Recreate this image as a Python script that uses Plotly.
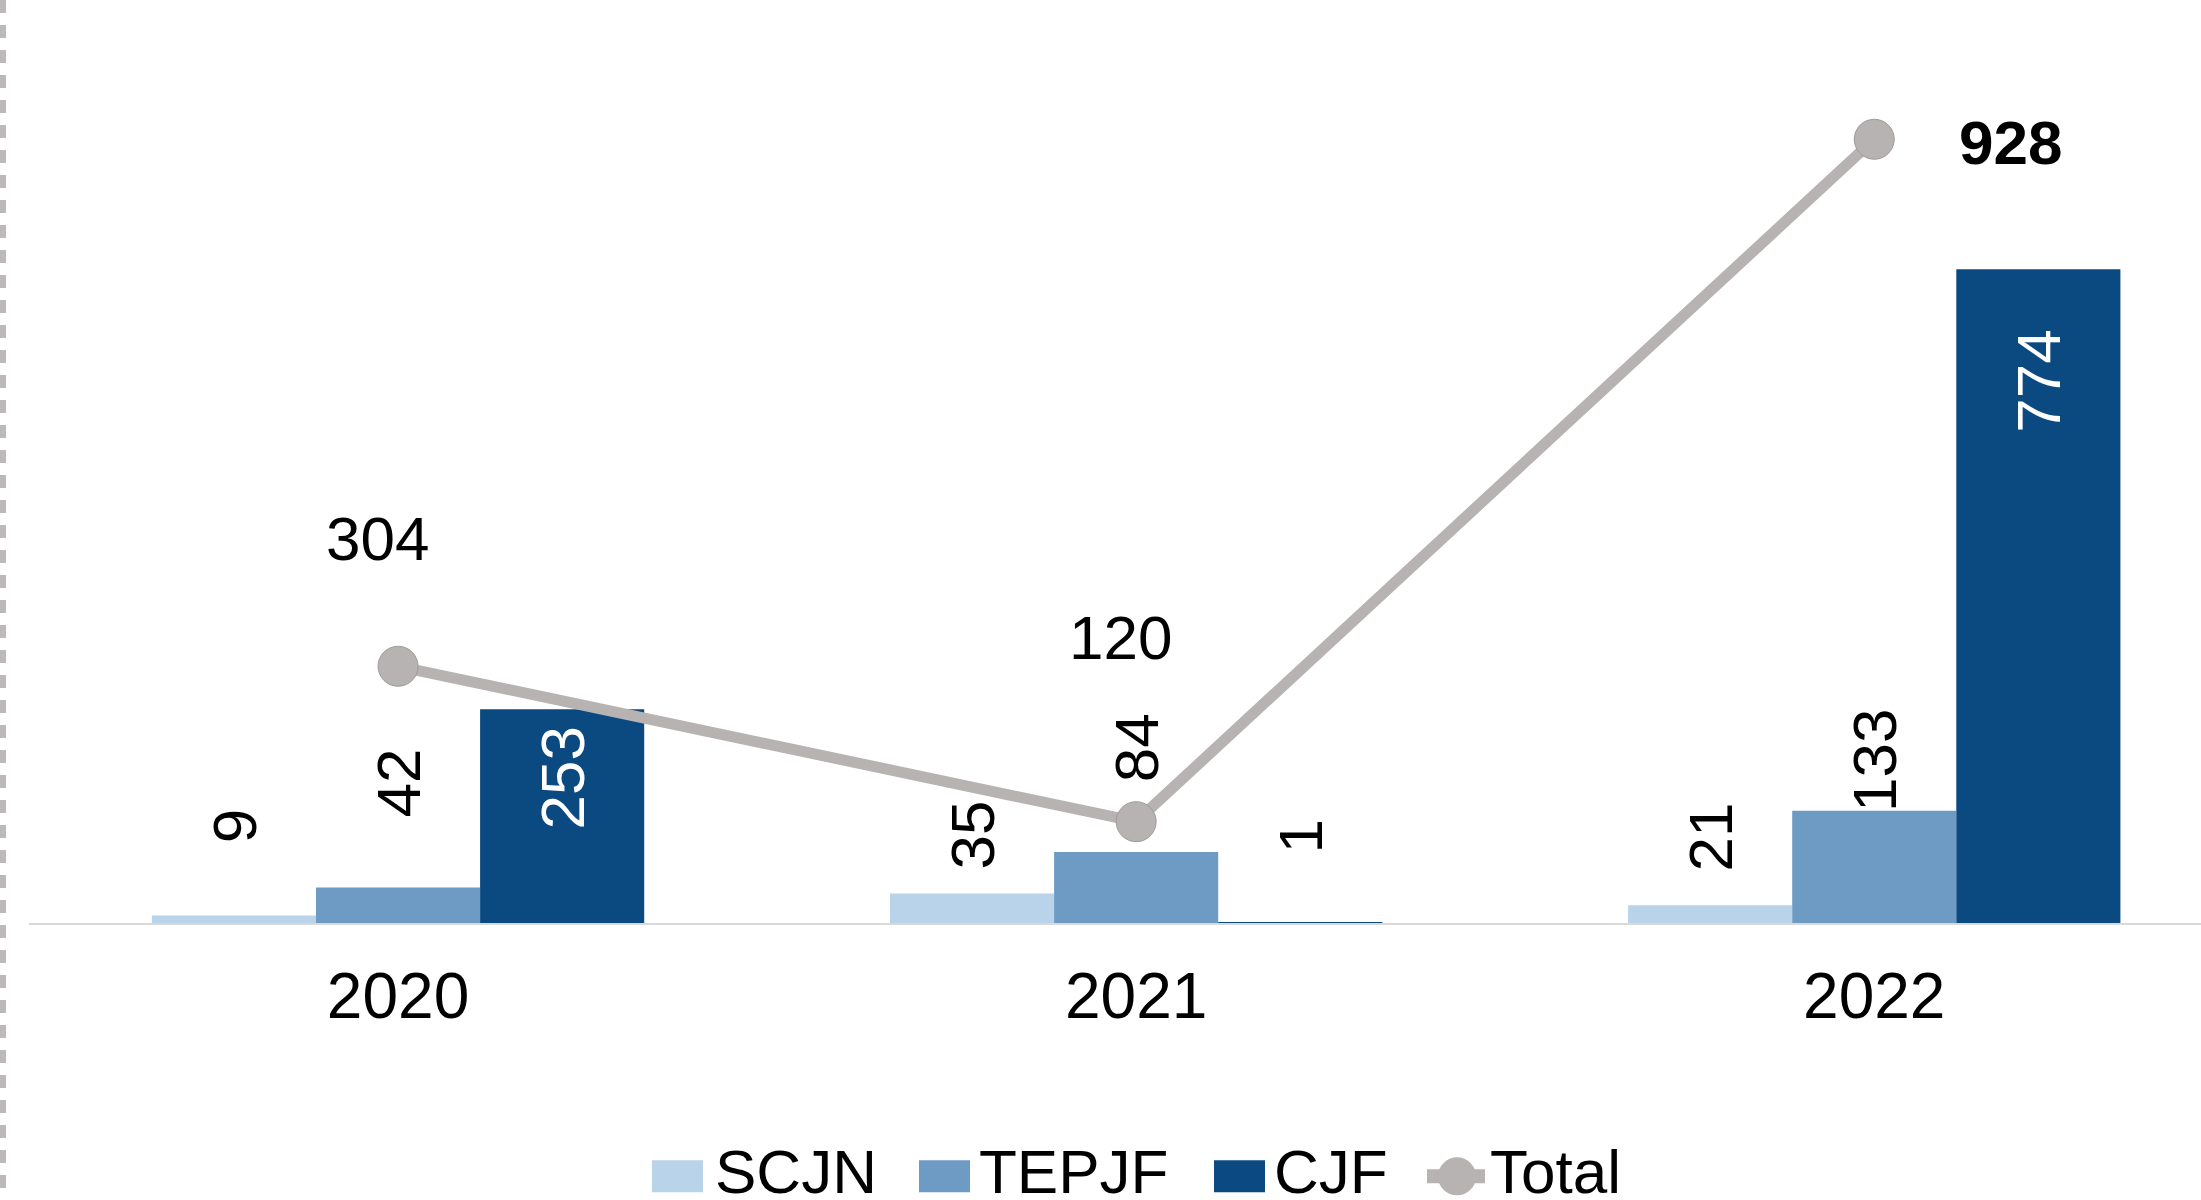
import plotly.graph_objects as go

# ---- data ----
years = ["2020", "2021", "2022"]
scjn = [9, 35, 21]
tepjf = [42, 84, 133]
cjf = [253, 1, 774]
total = [304, 120, 928]

# ---- geometry / style ----
W, H = 2201, 1200
ML, MT = 29, 0
PLOT_W = W - ML
BASE_PX = 923.5
MB = H - BASE_PX
PX_PER_UNIT = 0.845
YMAX = BASE_PX / PX_PER_UNIT
BARGAP = 0.333
XR = [-0.5, -0.5 + PLOT_W / 738.1]

C_SCJN = "#B9D3EA"
C_TEPJF = "#6E9BC3"
C_CJF = "#0B4A80"
C_TOT = "#B8B3B3"
FONT = "Liberation Sans, Arial, sans-serif"
FS = 62

xs = list(range(len(years)))

fig = go.Figure()
series = [("SCJN", scjn, C_SCJN), ("TEPJF", tepjf, C_TEPJF), ("CJF", cjf, C_CJF)]
for name, vals, col in series:
    fig.add_trace(go.Bar(x=xs, y=vals, name=name, marker=dict(color=col, line=dict(width=0)),
                         showlegend=False, hoverinfo="skip"))

fig.add_trace(go.Scatter(x=xs, y=total, name="Total", mode="lines+markers",
                         line=dict(color=C_TOT, width=11),
                         marker=dict(size=40, color=C_TOT, line=dict(color="#A09B9B", width=1)),
                         showlegend=False, hoverinfo="skip"))

# ---- bar labels (rotated) ----
bw = (1 - BARGAP) / 3
label_shift = [[89, 58, 68], [104, 104, 50], [-69, 86, -112]]
label_color = [["black"] * 3, ["black"] * 3, ["white", "black", "white"]]
ann = []
for k, (name, vals, col) in enumerate(series):
    for i, v in enumerate(vals):
        ann.append(dict(x=i + (k - 1) * bw, y=v, xref="x", yref="y", text=str(v),
                        showarrow=False, textangle=-90, xanchor="center", yanchor="middle",
                        yshift=label_shift[k][i],
                        font=dict(family=FONT, size=FS, color=label_color[k][i])))

# ---- total labels ----
tot_dx = [-21, -16, 136]
tot_dy = [128, 184, -3]
for i, v in enumerate(total):
    txt = f"<b>{v}</b>" if i == 2 else str(v)
    ann.append(dict(x=i, y=v, xref="x", yref="y", text=txt, showarrow=False,
                    xanchor="center", yanchor="middle", xshift=tot_dx[i], yshift=tot_dy[i],
                    font=dict(family=FONT, size=FS, color="black")))


def px(x):
    return (x - ML) / PLOT_W


def py(y):
    return (BASE_PX - y) / BASE_PX


shapes = []
# left dashed border
shapes.append(dict(type="line", xref="paper", yref="paper", x0=px(3), x1=px(3), y0=py(0), y1=py(H),
                   line=dict(color="#BDB8B9", width=6, dash="13px,12px")))

# ---- custom legend ----
LEG_Y = 1177
TXT_Y = 1172
leg_items = [("SCJN", C_SCJN, 652, 713), ("TEPJF", C_TEPJF, 919, 977), ("CJF", C_CJF, 1214, 1272)]
for name, col, sx, tx in leg_items:
    shapes.append(dict(type="rect", xref="paper", yref="paper", x0=px(sx), x1=px(sx + 51),
                       y0=py(LEG_Y - 16), y1=py(LEG_Y + 16), fillcolor=col, line=dict(width=0)))
    ann.append(dict(x=px(tx), y=py(TXT_Y), xref="paper", yref="paper", text=name, showarrow=False,
                    xanchor="left", yanchor="middle", font=dict(family=FONT, size=FS, color="black")))
shapes.append(dict(type="line", xref="paper", yref="paper", x0=px(1427), x1=px(1485), y0=py(LEG_Y),
                   y1=py(LEG_Y), line=dict(color=C_TOT, width=14)))
shapes.append(dict(type="circle", xref="paper", yref="paper", x0=px(1457 - 19), x1=px(1457 + 19),
                   y0=py(LEG_Y - 19), y1=py(LEG_Y + 19), fillcolor=C_TOT, line=dict(width=0)))
ann.append(dict(x=px(1488), y=py(TXT_Y), xref="paper", yref="paper", text="Total", showarrow=False,
                xanchor="left", yanchor="middle", font=dict(family=FONT, size=FS, color="black")))

fig.update_layout(
    width=W, height=H,
    margin=dict(l=ML, r=0, t=MT, b=MB, pad=0),
    paper_bgcolor="white", plot_bgcolor="white",
    barmode="group", bargap=BARGAP, bargroupgap=0,
    showlegend=False,
    xaxis=dict(range=XR, tickmode="array", tickvals=xs, ticktext=years, showgrid=False, zeroline=False,
               showline=True, linecolor="#D9D9D9", linewidth=2, ticks="",
               ticklabelstandoff=16,
               tickfont=dict(family=FONT, size=64, color="black"), fixedrange=True),
    yaxis=dict(range=[0, YMAX], visible=False, showgrid=False, zeroline=False, fixedrange=True),
    annotations=ann,
    shapes=shapes,
)

fig.write_html("out.html", config={"displayModeBar": False},
               post_script="document.body.style.margin='0px';document.body.style.overflow='hidden';")
